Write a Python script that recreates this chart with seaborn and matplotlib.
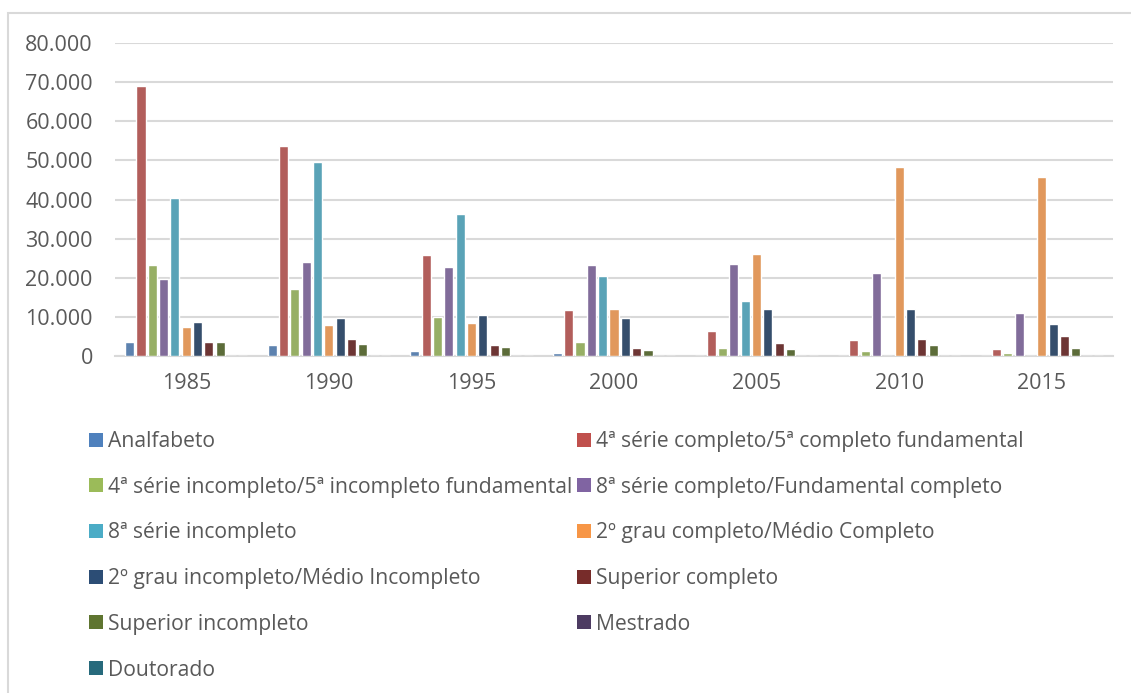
import pandas as pd
import seaborn as sns
import matplotlib.pyplot as plt
from matplotlib.patches import Patch, Rectangle
from matplotlib.ticker import FuncFormatter

# anos e valores
years = ['1985', '1990', '1995', '2000', '2005', '2010', '2015']
categories = [
    'Analfabeto',
    '4ª série completo/5ª completo fundamental',
    '4ª série incompleto/5ª incompleto fundamental',
    '8ª série completo/Fundamental completo',
    '8ª série incompleto',
    '2º grau completo/Médio Completo',
    '2º grau incompleto/Médio Incompleto',
    'Superior completo',
    'Superior incompleto',
    'Mestrado',
    'Doutorado',
]
analfabeto = [3500, 2900, 1400, 800, 100, 100, 0]
quarta_completo = [69000, 53700, 25700, 11700, 6300, 4000, 1800]
quarta_incompleto = [23300, 17000, 10000, 3700, 2000, 1400, 850]
oitava_completo = [19800, 24000, 22800, 23200, 23500, 21100, 11100]
oitava_incompleto = [40300, 49600, 36400, 20400, 14000, 0, 0]
medio_completo = [7300, 7900, 8500, 12100, 26100, 48300, 45700]
medio_incompleto = [8800, 9700, 10400, 9600, 11900, 12100, 8300]
superior_completo = [3500, 4300, 2700, 2100, 3200, 4300, 5200]
superior_incompleto = [3500, 3100, 2300, 1500, 1700, 2900, 2050]
mestrado = [0, 0, 0, 0, 0, 0, 0]
doutorado = [0, 0, 0, 0, 0, 0, 0]

colors = ['#4F81BD', '#C0504D', '#9BBB59', '#8064A2', '#4BACC6', '#F79646',
          '#2C4D75', '#772C2A', '#5F7530', '#4D3B62', '#276A7C']

series = [analfabeto, quarta_completo, quarta_incompleto, oitava_completo,
          oitava_incompleto, medio_completo, medio_incompleto,
          superior_completo, superior_incompleto, mestrado, doutorado]

rows = []
for cat, vals in zip(categories, series):
    for year, v in zip(years, vals):
        rows.append({'ano': year, 'escolaridade': cat, 'valor': v})
df = pd.DataFrame(rows)

sns.set_style('white')
plt.rcParams['font.family'] = ['Open Sans', 'DejaVu Sans']
text_color = '#595959'
grid_color = '#D9D9D9'
fsize = 15.5

fig = plt.figure(figsize=(11.31, 6.93), dpi=100)
ax = fig.add_axes([115 / 1131, 1 - 356 / 693, 998 / 1131, 313 / 693])

sns.barplot(data=df, x='ano', y='valor', hue='escolaridade', hue_order=categories,
            order=years, palette=colors, width=0.874, gap=0.2, legend=False,
            ax=ax, zorder=3)

ax.set_ylim(0, 80000)
ax.set_xlim(-0.5, len(years) - 0.5)
ax.set_yticks(range(0, 80001, 10000))
ax.yaxis.set_major_formatter(FuncFormatter(lambda v, p: f'{int(v):,}'.replace(',', '.')))
ax.yaxis.grid(True, color=grid_color, linewidth=1.5, zorder=0)
ax.set_axisbelow(True)
for side in ['left', 'right', 'top']:
    ax.spines[side].set_visible(False)
ax.spines['bottom'].set_color(grid_color)
ax.spines['bottom'].set_linewidth(1.5)
ax.tick_params(axis='y', length=0, pad=16, labelsize=fsize, labelcolor=text_color)
ax.tick_params(axis='x', length=0, pad=12, labelsize=fsize, labelcolor=text_color)
ax.set_xlabel('')
ax.set_ylabel('')

# legenda em duas colunas, preenchida por linha
handles = [Patch(facecolor=c, edgecolor='none', label=l) for c, l in zip(colors, categories)]
order = [0, 2, 4, 6, 8, 10, 1, 3, 5, 7, 9]
fig.legend([handles[i] for i in order], [categories[i] for i in order],
           ncol=2, loc='upper left', bbox_to_anchor=(89 / 1131, 1 - 431 / 693),
           frameon=False, fontsize=15.2, labelcolor=text_color,
           handlelength=0.64, handleheight=0.64, handletextpad=0.25,
           labelspacing=1.17, columnspacing=0.25, borderpad=0, borderaxespad=0)

# moldura do gráfico
fig.patches.append(Rectangle((8 / 1131, -0.05), 1.2, 1 - 13 / 693 + 0.05,
                             transform=fig.transFigure, fill=False,
                             edgecolor=grid_color, linewidth=1.5))

plt.savefig('out.png', dpi=100)
